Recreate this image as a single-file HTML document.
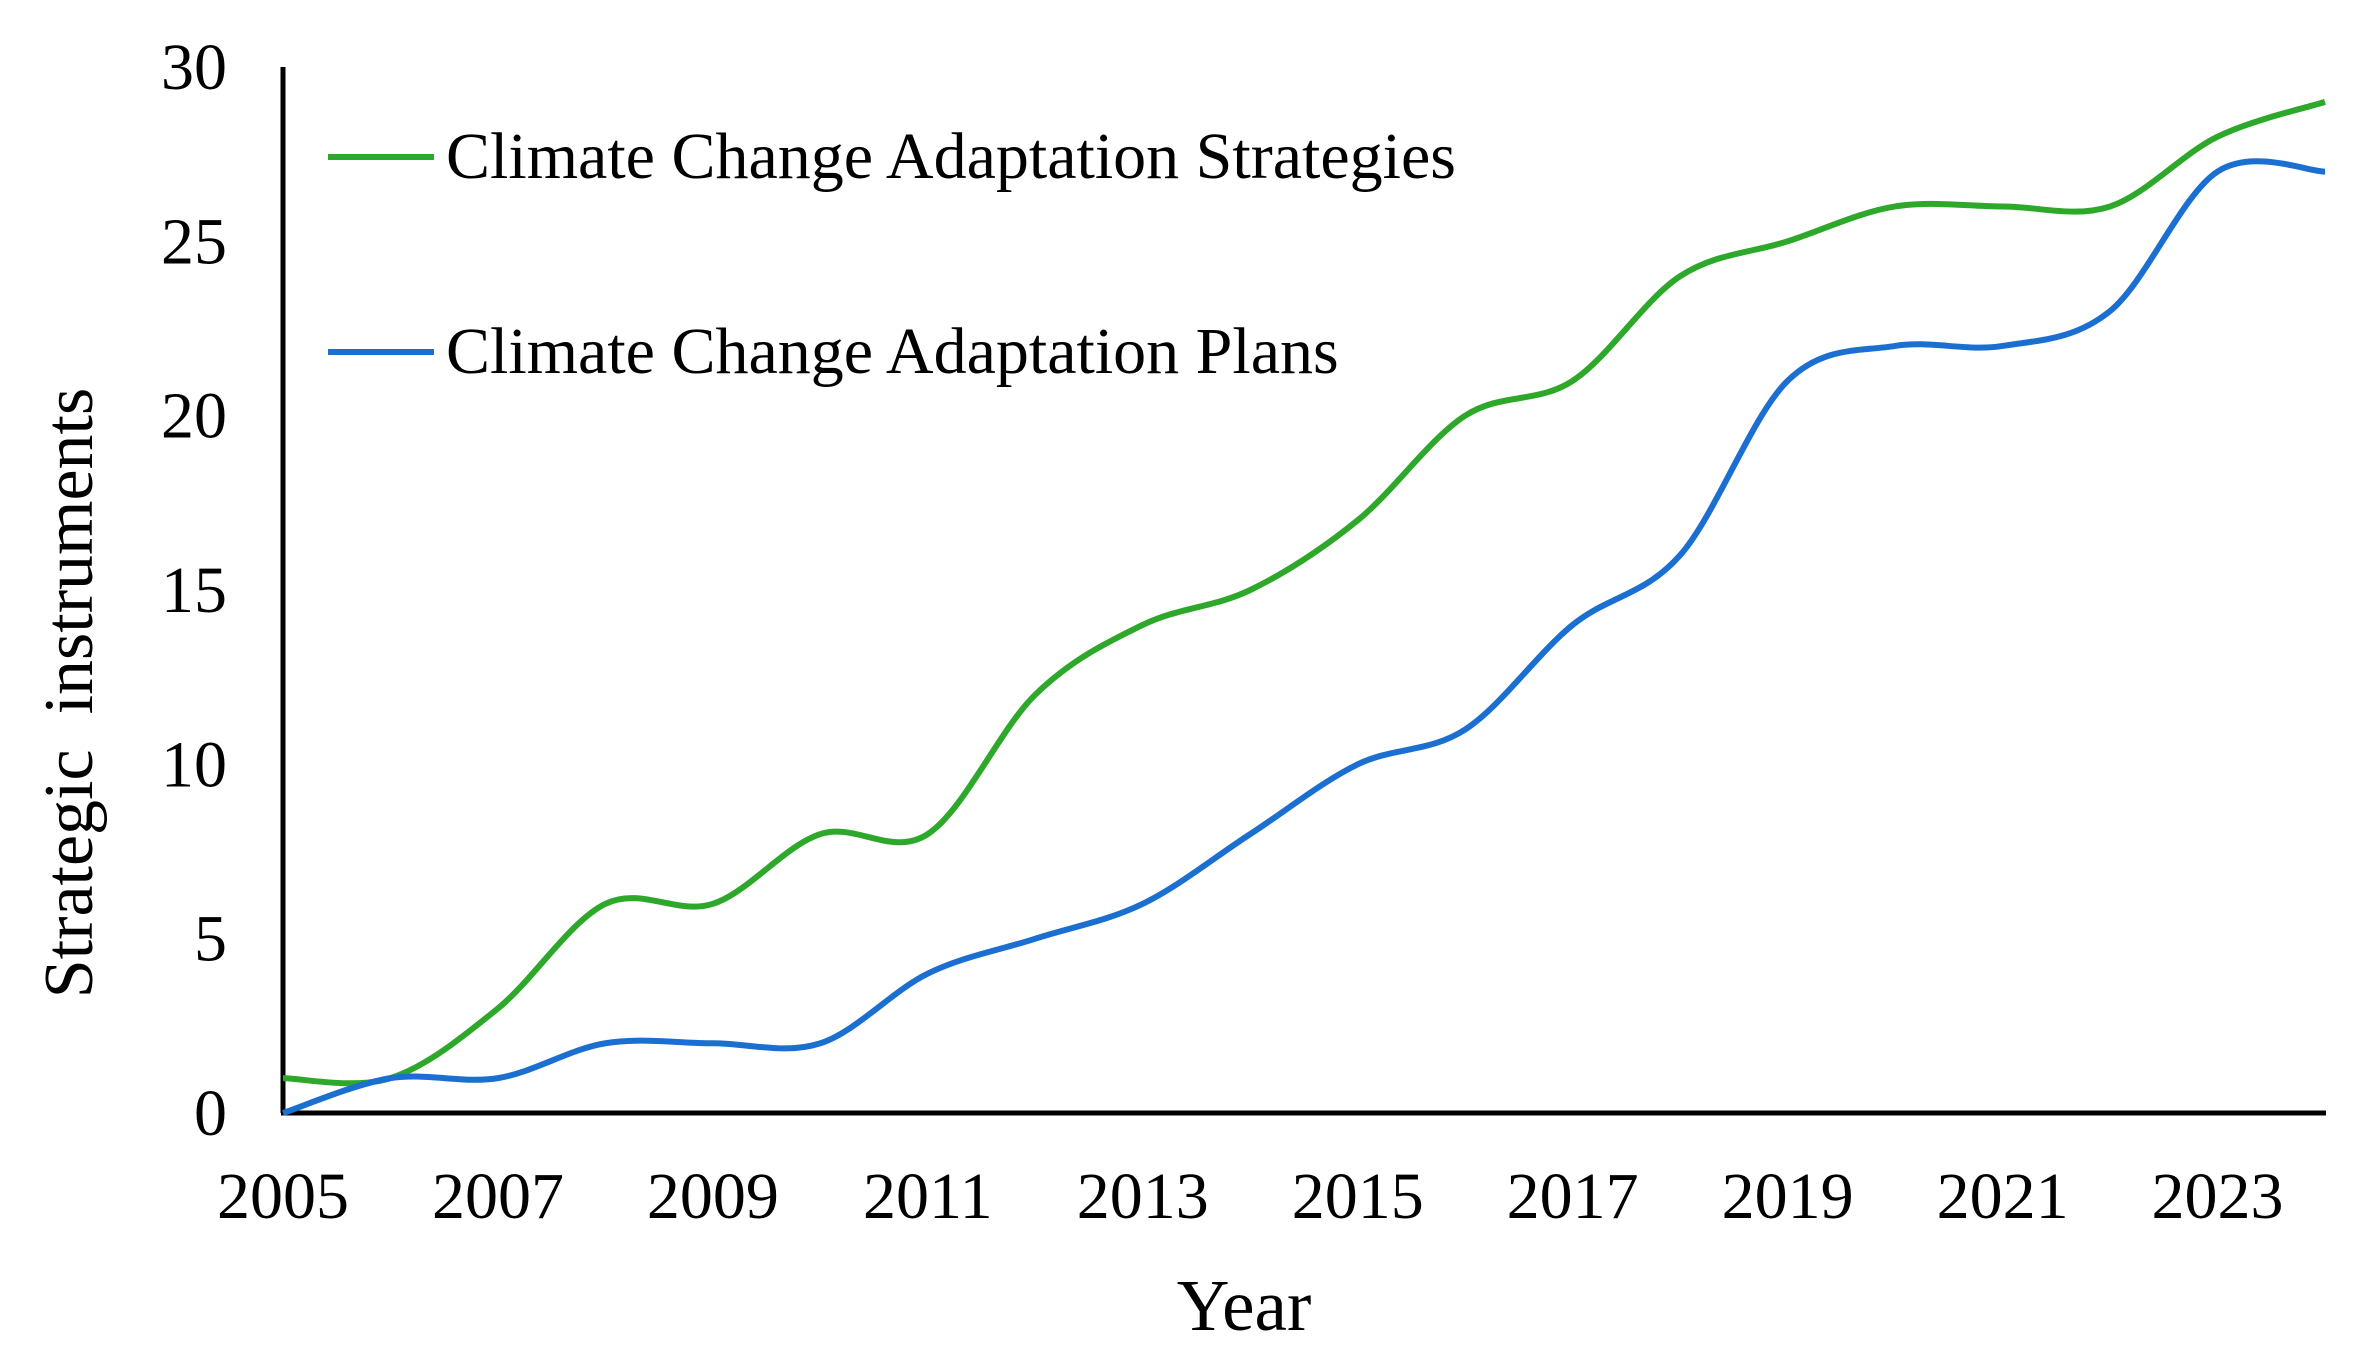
<!DOCTYPE html>
<html><head><meta charset="utf-8"><style>
html,body{margin:0;padding:0;background:#fff;}
svg{display:block;font-family:"Liberation Serif",serif;}
</style></head><body>
<svg id="chart" width="2361" height="1364" viewBox="0 0 2361 1364">
<g id="axes"></g><g id="series"></g>
<g>
<line x1="328" y1="157" x2="434" y2="157" stroke="#2ea82b" stroke-width="6"/>
<text x="446" y="178" font-size="66">Climate Change Adaptation Strategies</text>
<line x1="328" y1="352" x2="434" y2="352" stroke="#1b6fd1" stroke-width="6"/>
<text x="446" y="373" font-size="66">Climate Change Adaptation Plans</text>
</g>
<text x="1244" y="1330" font-size="73" text-anchor="middle">Year</text>
<text transform="translate(92,693) rotate(-90)" font-size="70" text-anchor="middle" xml:space="preserve">Strategic  instruments</text>
</svg>
<script>
const years=[2005,2006,2007,2008,2009,2010,2011,2012,2013,2014,2015,2016,2017,2018,2019,2020,2021,2022,2023,2024];
const strategies=[1,1,3,6,6,8,8,12,14,15,17,20,21,24,25,26,26,26,28,29];
const plans=[0,1,1,2,2,2,4,5,6,8,10,11,14,16,21,22,22,23,27,27];
const yTicks=[0,5,10,15,20,25,30];
const xTicks=[2005,2007,2009,2011,2013,2015,2017,2019,2021,2023];
const NS="http://www.w3.org/2000/svg";
const X=v=>283+(v-2005)*(2325-283)/19;
const Y=v=>1113-v*(1113-67)/30;
const axes=document.getElementById('axes'),ser=document.getElementById('series');
function mk(t,a,p){const e=document.createElementNS(NS,t);for(const k in a)e.setAttribute(k,a[k]);p.appendChild(e);return e;}
const ya=mk('line',{x1:283,y1:67,x2:283,y2:1113,stroke:'#000','stroke-width':5},axes);


const xa=mk('line',{x1:281,y1:1113,x2:2326,y2:1113,stroke:'#000','stroke-width':5},axes);


yTicks.forEach(v=>{const t=mk('text',{x:227,y:Y(v)+22,'font-size':66,'text-anchor':'end'},axes);t.textContent=v;

});
xTicks.forEach(v=>{const t=mk('text',{x:X(v),y:1218,'font-size':66,'text-anchor':'middle'},axes);t.textContent=v;

});
function path(vals){const p=years.map((y,i)=>[X(y),Y(vals[i])]);let d='M'+p[0][0]+','+p[0][1];
for(let i=0;i<p.length-1;i++){const p0=p[i-1]||p[i],p1=p[i],p2=p[i+1],p3=p[i+2]||p2;
d+=` C${p1[0]+(p2[0]-p0[0])/6},${p1[1]+(p2[1]-p0[1])/6} ${p2[0]-(p3[0]-p1[0])/6},${p2[1]-(p3[1]-p1[1])/6} ${p2[0]},${p2[1]}`;}return d;}
const g=mk('path',{d:path(strategies),fill:'none',stroke:'#2ea82b','stroke-width':6},ser);


const b=mk('path',{d:path(plans),fill:'none',stroke:'#1b6fd1','stroke-width':6},ser);


</script>
</body></html>
